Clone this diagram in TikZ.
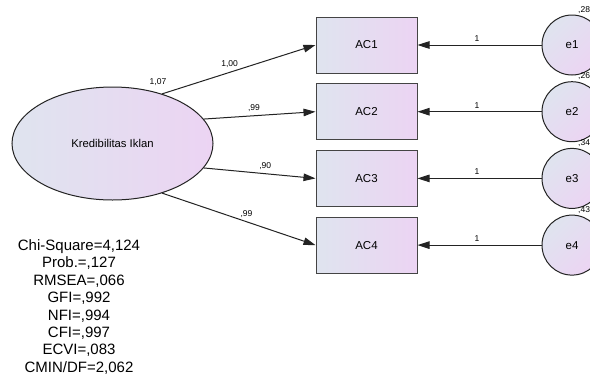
\documentclass[tikz,border=0pt]{standalone}
\usepackage{fontspec}
\setmainfont{Liberation Sans}
\usetikzlibrary{shapes.geometric, arrows.meta, positioning}
\usepackage{xcolor}
\definecolor{shadeL}{RGB}{223,228,239}
\definecolor{shadeR}{RGB}{236,212,243}
\definecolor{edge}{RGB}{35,35,35}
\tikzstyle{observed} = [rectangle, minimum width=101pt, minimum height=56pt, inner sep=0pt, draw=edge!85, line width=1pt, left color=shadeL, right color=shadeR, font=\fontsize{11.5}{13}\selectfont]
\tikzstyle{latent} = [ellipse, minimum width=201pt, minimum height=113pt, inner sep=0pt, draw=edge, line width=1pt, left color=shadeL, right color=shadeR, font=\fontsize{11.3}{13}\selectfont]
\tikzstyle{errterm} = [circle, minimum size=60pt, inner sep=0pt, draw=edge, line width=1pt, left color=shadeL, right color=shadeR, shading angle=45, font=\fontsize{11.5}{13}\selectfont]
\tikzstyle{coef} = [inner sep=1pt, font=\fontsize{8.5}{10}\selectfont]
\tikzstyle{loadarrow} = [line width=1pt, draw=edge, -{Triangle[length=12pt,width=7.5pt]}]

\begin{document}
\begin{tikzpicture}[x=1pt, y=-1pt, node distance=9.7pt]
    \fill[white] (0,0) rectangle (590,381);
    \useasboundingbox (0,0) rectangle (590,381);

    \node (kred) [latent] at (112.5,143.5) {Kredibilitas Iklan};
    \node (varK) [coef, above right=0pt and 36pt of kred.north] {1,07};

    \node (ac1) [observed] at (366.5,45) {AC1};
    \node (ac2) [observed, below=of ac1] {AC2};
    \node (ac3) [observed, below=of ac2] {AC3};
    \node (ac4) [observed, below=of ac3] {AC4};

    \node (e1) [errterm, right=124pt of ac1] {e1};
    \node (e2) [errterm, right=124pt of ac2] {e2};
    \node (e3) [errterm, right=124pt of ac3] {e3};
    \node (e4) [errterm, right=124pt of ac4] {e4};

    % error variances
    \foreach \e/\v in {e1/{,28}, e2/{,26}, e3/{,34}, e4/{,43}} {
        \node [coef, above right=0pt and 5pt of \e.north] {\v};
    }

    % loadings
    \foreach \a/\b/\v/\p in {45/ac1/{1,00}/0.44, 15/ac2/{,99}/0.45, -15/ac3/{,90}/0.55, -45/ac4/{,99}/0.55} {
        \draw [loadarrow] (kred.\a) -- node[coef, pos=\p, above=3pt] {\v} (\b.west);
    }
    \foreach \e/\b in {e1/ac1, e2/ac2, e3/ac3, e4/ac4} {
        \draw [loadarrow] (\e.west) -- node[coef, pos=0.52, above=2pt] {1} (\b.east);
    }

    % fit indices
    \node (fit) [below=39pt of kred.south, xshift=-33.5pt, inner sep=0pt, align=center, font=\fontsize{15}{17.4}\selectfont] {Chi-Square=4,124\\Prob.=,127\\RMSEA=,066\\GFI=,992\\NFI=,994\\CFI=,997\\ECVI=,083\\CMIN/DF=2,062};
\end{tikzpicture}
\end{document}
